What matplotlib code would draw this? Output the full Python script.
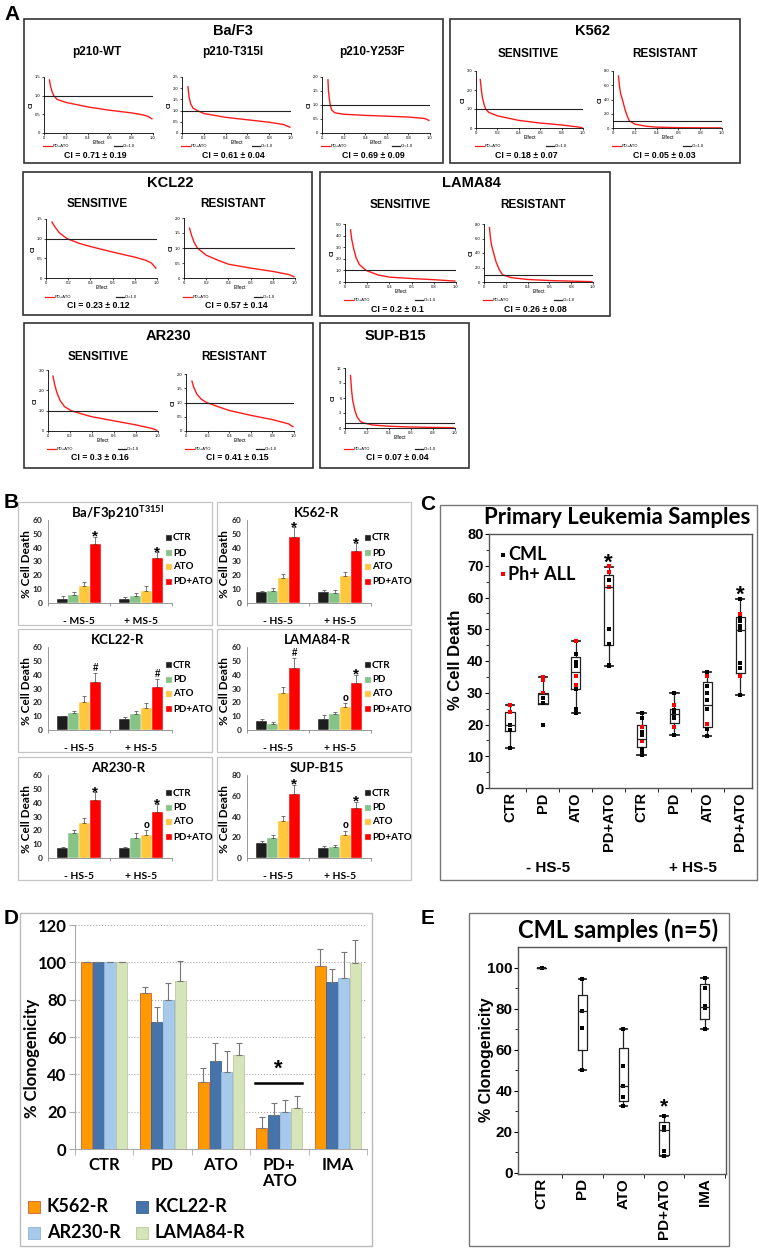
import numpy as np
import matplotlib.pyplot as plt
from matplotlib.patches import Rectangle
from matplotlib.lines import Line2D

plt.rcParams['font.family'] = 'Liberation Sans'
plt.rcParams['mathtext.fontset'] = 'custom'
plt.rcParams['mathtext.bf'] = 'Lato:bold'
plt.rcParams['mathtext.rm'] = 'Lato'

# ---------------- panel A : combination index curves (effect, CI) ----------------
wt_eff = [0.05, 0.06, 0.075, 0.09, 0.12, 0.2, 0.4, 0.6, 0.8, 0.9, 0.95, 0.99]
wt_ci = [1.42, 1.25, 1.1, 1.0, 0.9, 0.82, 0.70, 0.61, 0.54, 0.49, 0.45, 0.38]
t315_eff = [0.055, 0.065, 0.08, 0.1, 0.14, 0.2, 0.4, 0.6, 0.8, 0.93, 0.99]
t315_ci = [2.06, 1.6, 1.3, 1.12, 1.0, 0.87, 0.7, 0.59, 0.48, 0.38, 0.26]
y253_eff = [0.055, 0.06, 0.07, 0.08, 0.09, 0.12, 0.2, 0.4, 0.6, 0.8, 0.95, 0.99]
y253_ci = [1.9, 1.5, 1.15, 0.95, 0.82, 0.72, 0.67, 0.63, 0.6, 0.57, 0.52, 0.45]
k562s_eff = [0.04, 0.05, 0.06, 0.075, 0.09, 0.12, 0.2, 0.4, 0.6, 0.8, 0.96, 0.99]
k562s_ci = [2.55, 2.0, 1.6, 1.25, 1.0, 0.82, 0.64, 0.4, 0.26, 0.16, 0.05, 0.02]
k562r_eff = [0.05, 0.06, 0.07, 0.09, 0.11, 0.13, 0.15, 0.2, 0.3, 0.4, 0.6, 0.8, 0.99]
k562r_ci = [7.3, 5.8, 4.8, 3.8, 2.6, 1.7, 1.0, 0.55, 0.25, 0.12, 0.05, 0.03, 0.02]
kcl22s_eff = [0.054, 0.08, 0.12, 0.19, 0.3, 0.4, 0.6, 0.8, 0.9, 0.95, 0.99]
kcl22s_ci = [1.42, 1.3, 1.15, 1.0, 0.88, 0.8, 0.66, 0.53, 0.45, 0.38, 0.25]
kcl22r_eff = [0.05, 0.07, 0.09, 0.12, 0.2, 0.3, 0.4, 0.6, 0.8, 0.95, 0.99]
kcl22r_ci = [1.66, 1.4, 1.2, 1.0, 0.76, 0.6, 0.46, 0.33, 0.22, 0.11, 0.04]
lama84s_eff = [0.05, 0.06, 0.08, 0.1, 0.13, 0.19, 0.3, 0.4, 0.6, 0.8, 0.99]
lama84s_ci = [4.5, 3.7, 2.8, 2.1, 1.5, 1.0, 0.6, 0.42, 0.3, 0.2, 0.08]
lama84r_eff = [0.05, 0.06, 0.07, 0.09, 0.11, 0.14, 0.17, 0.25, 0.4, 0.6, 0.8, 0.99]
lama84r_ci = [7.5, 6.0, 5.0, 3.9, 2.8, 1.7, 1.0, 0.6, 0.35, 0.2, 0.12, 0.05]
ar230s_eff = [0.045, 0.06, 0.08, 0.11, 0.15, 0.21, 0.3, 0.4, 0.6, 0.8, 0.95, 0.99]
ar230s_ci = [2.7, 2.3, 1.9, 1.5, 1.2, 1.0, 0.85, 0.7, 0.5, 0.3, 0.12, 0.03]
ar230r_eff = [0.055, 0.07, 0.1, 0.14, 0.19, 0.3, 0.4, 0.6, 0.8, 0.95, 0.99]
ar230r_ci = [1.75, 1.55, 1.3, 1.12, 1.0, 0.85, 0.72, 0.55, 0.4, 0.25, 0.15]
supb15_eff = [0.05, 0.06, 0.07, 0.09, 0.11, 0.14, 0.17, 0.25, 0.4, 0.6, 0.8, 0.99]
supb15_ci = [10.5, 7.5, 5.5, 3.5, 2.2, 1.3, 1.0, 0.6, 0.35, 0.2, 0.12, 0.05]

ci_mean = [0.71, 0.61, 0.69, 0.18, 0.05, 0.23, 0.57, 0.2, 0.26, 0.3, 0.41, 0.07]
ci_sd = [0.19, 0.04, 0.09, 0.07, 0.03, 0.12, 0.14, 0.1, 0.08, 0.16, 0.15, 0.04]

# ---------------- panel B : % cell death, [-stroma, +stroma] x [CTR, PD, ATO, PD+ATO] ----------------
b_treat = ['CTR', 'PD', 'ATO', 'PD+ATO']
baf3_vals = [[3.1, 6.0, 12.0, 42.4], [2.9, 4.8, 8.9, 32.4]]
baf3_errs = [[2.2, 1.9, 2.9, 5.6], [1.4, 2.4, 3.6, 4.3]]
k562_vals = [[7.7, 8.9, 18.0, 48.0], [7.9, 7.2, 19.7, 37.7]]
k562_errs = [[1.2, 1.9, 3.1, 6.7], [1.7, 2.2, 2.6, 5.5]]
kcl22_vals = [[10.1, 12.0, 20.4, 34.8], [8.2, 11.3, 16.1, 31.2]]
kcl22_errs = [[0.3, 1.7, 4.3, 6.4], [1.2, 2.4, 3.1, 5.5]]
lama84_vals = [[6.3, 4.6, 26.7, 45.0], [8.0, 11.6, 16.4, 34.0]]
lama84_errs = [[1.7, 1.4, 4.6, 6.8], [2.8, 1.4, 3.4, 6.0]]
ar230_vals = [[7.1, 17.9, 25.0, 41.7], [7.1, 14.8, 16.4, 33.3]]
ar230_errs = [[1.2, 2.1, 3.6, 5.9], [1.2, 3.1, 3.6, 5.7]]
supb15_vals = [[14.4, 19.5, 35.5, 61.7], [9.6, 10.5, 21.7, 47.9]]
supb15_errs = [[1.9, 2.9, 5.4, 8.9], [1.9, 2.3, 4.8, 6.4]]

# ---------------- panel C : primary samples ----------------
c_labels = ['CTR', 'PD', 'ATO', 'PD+ATO', 'CTR', 'PD', 'ATO', 'PD+ATO']
c_whislo = [12.6, 26.5, 23.6, 38.3, 10.5, 16.6, 16.3, 29.3]
c_q1 = [18.0, 26.5, 31.3, 45.1, 13.0, 20.5, 19.2, 36.2]
c_med = [20.0, 29.5, 36.4, 63.3, 15.5, 23.4, 26.1, 49.9]
c_q3 = [24.0, 29.9, 41.3, 67.1, 20.0, 25.0, 33.4, 53.9]
c_whishi = [26.1, 35.0, 46.4, 69.5, 23.6, 29.8, 36.4, 59.4]
c_cml = [[20, 18.2, 12.6], [28.4, 26.8, 20], [42.2, 39.8, 38.5, 31.3, 25, 23.6],
         [65.5, 50.2, 45.4, 38.8, 38.3], [23.6, 21.9, 17.6, 16.6, 12.3, 11.1, 10.5],
         [29.8, 24.5, 23.4, 21.9, 16.6], [36.4, 32.1, 29.8, 27.7, 24.8, 18.7, 16.3],
         [59.4, 53.6, 52.5, 51, 49.9, 39.3, 37.7, 29.3]]
c_phall = [[26.1, 23.8], [35, 34, 29.8], [46.4, 35.4, 32.4], [69.8, 67.9, 63.4],
           [19.2, 14.7], [26.1, 19.2], [35.3, 20.3], [54.9, 35.3]]

# ---------------- panel D : clonogenicity of resistant lines ----------------
d_groups = ['CTR', 'PD', 'ATO', 'PD+\nATO', 'IMA']
d_lines = ['K562-R', 'KCL22-R', 'AR230-R', 'LAMA84-R']
k562_clono = [100, 83.4, 36, 11.3, 98.2]
k562_clono_err = [0, 3.6, 7.2, 5.8, 9.1]
kcl22_clono = [100, 67.9, 47.3, 18, 89.3]
kcl22_clono_err = [0, 8.1, 9.7, 6.8, 7.3]
ar230_clono = [100, 79.8, 41.4, 20, 91.8]
ar230_clono_err = [0, 9, 11.1, 6.2, 13.6]
lama84_clono = [100, 89.8, 50.2, 22.1, 99.6]
lama84_clono_err = [0, 11.1, 6.4, 6.3, 12.4]

# ---------------- panel E : CML samples ----------------
e_labels = ['CTR', 'PD', 'ATO', 'PD+ATO', 'IMA']
e_whislo = [100, 50.2, 32.7, 8.4, 69.9]
e_q1 = [100, 59.9, 34.8, 8.9, 74.8]
e_med = [100, 79, 42.3, 21, 80.9]
e_q3 = [100, 86.6, 61, 24.6, 92.2]
e_whishi = [100, 94.3, 69.9, 27.5, 95.1]
e_pts = [[100, 100, 100, 100, 100], [94.3, 94.3, 79, 70.4, 50.2], [69.9, 52.3, 42.3, 37.2, 32.7],
         [27.5, 22.3, 21, 10.5, 8.4], [95.1, 89.8, 81.2, 80.3, 69.9]]

W, H = 759, 1249
fig = plt.figure(figsize=(W / 100, H / 100), dpi=100)


def add_ax(x0, y0, x1, y1):
    return fig.add_axes([x0 / W, 1 - y1 / H, (x1 - x0) / W, (y1 - y0) / H])


def frame(x0, y0, x1, y1, color='#333333', lw=1.2):
    fig.add_artist(Rectangle((x0 / W, 1 - y1 / H), (x1 - x0) / W, (y1 - y0) / H,
                             transform=fig.transFigure, fill=False, ec=color, lw=lw))


def txt(x, y, s, **kw):
    kw.setdefault('ha', 'center')
    kw.setdefault('va', 'center')
    fig.text(x / W, 1 - y / H, s, **kw)


def fline(x0, x1, y, **kw):
    fig.add_artist(Line2D([x0 / W, x1 / W], [1 - y / H, 1 - y / H], transform=fig.transFigure, **kw))


# panel letters
for lt, (x, y) in zip('ABCDE', [(12, 15), (11, 503), (428, 505), (11, 918), (428, 918)]):
    txt(x, y, lt, fontsize=15, fontweight='bold')

# ---- A ----
a_boxes = [(24, 19, 443, 163), (450, 19, 740, 163), (23, 172, 312, 315),
           (320, 172, 610, 316), (24, 323, 313, 468), (320, 323, 469, 468)]
a_titles = [('Ba/F3', 233, 31), ('K562', 593, 31), ('KCL22', 170, 183),
            ('LAMA84', 471, 183), ('AR230', 168, 336), ('SUP-B15', 395, 336)]
for b in a_boxes:
    frame(*b)
for t, x, y in a_titles:
    txt(x, y, t, fontsize=10.5, fontweight='bold')

a_subs = [('p210-WT', 97, 52), ('p210-T315I', 233, 52), ('p210-Y253F', 372, 52),
          ('SENSITIVE', 528, 54), ('RESISTANT', 665, 54),
          ('SENSITIVE', 97, 204), ('RESISTANT', 233, 204),
          ('SENSITIVE', 400, 205), ('RESISTANT', 533, 205),
          ('SENSITIVE', 98, 357), ('RESISTANT', 234, 357)]
for t, x, y in a_subs:
    txt(x, y, t, fontsize=8.5, fontweight='bold')

a_curves = [(wt_eff, wt_ci), (t315_eff, t315_ci), (y253_eff, y253_ci),
            (k562s_eff, k562s_ci), (k562r_eff, k562r_ci),
            (kcl22s_eff, kcl22s_ci), (kcl22r_eff, kcl22r_ci),
            (lama84s_eff, lama84s_ci), (lama84r_eff, lama84r_ci),
            (ar230s_eff, ar230s_ci), (ar230r_eff, ar230r_ci), (supb15_eff, supb15_ci)]
a_pos = [(44, 77, 153, 133), (182, 77, 291, 133), (322, 77, 430, 133),
         (476, 71, 583, 128), (613, 71, 722, 128),
         (46, 219, 157, 278), (184, 218, 295, 278),
         (345, 224, 456, 282), (484, 224, 593, 282),
         (48, 370, 158, 431), (186, 374, 294, 431), (345, 368, 455, 428)]
a_ytop = [1.5, 2.5, 2.0, 3.0, 8.0, 1.5, 2.0, 5.0, 8.0, 3.0, 2.0, 12]
a_ystep = [0.5, 0.5, 0.5, 1.0, 2.0, 0.5, 0.5, 1.0, 2.0, 1.0, 0.5, 3]
a_leg_y = [146, 146, 146, 146, 146, 297, 297, 300, 300, 449, 449, 449]
a_ci_y = [155, 155, 155, 155, 155, 305, 305, 309, 309, 458, 458, 458]

for k in range(12):
    x0, y0, x1, y1 = a_pos[k]
    ax = add_ax(x0, y0, x1, y1)
    ex, cy = a_curves[k]
    ax.plot(ex, cy, color='#ff1a1a', lw=1.0)
    ax.plot([0, 1.0], [1.0, 1.0], color='#222222', lw=0.8)
    ax.set_xlim(0, 1.0)
    ax.set_ylim(0, a_ytop[k])
    yt = np.arange(0, a_ytop[k] + 1e-6, a_ystep[k])
    ax.set_yticks(yt)
    if a_ystep[k] >= 3:
        ax.set_yticklabels(['%d' % v for v in yt])
    else:
        ax.set_yticklabels(['0'] + ['%.1f' % v for v in yt[1:]])
    ax.set_xticks([0, 0.2, 0.4, 0.6, 0.8, 1.0])
    ax.set_xticklabels(['0', '0.2', '0.4', '0.6', '0.8', '1.0'])
    ax.tick_params(labelsize=3, length=1.5, width=0.5, pad=1)
    for s in ['top', 'right']:
        ax.spines[s].set_visible(False)
    for s in ['left', 'bottom']:
        ax.spines[s].set_linewidth(0.6)
    ax.set_ylabel('CI', fontsize=4.5, fontweight='bold', labelpad=1)
    ax.set_xlabel('Effect', fontsize=3.5, labelpad=0)
    ly = a_leg_y[k]
    fline(x0 - 1, x0 + 8, ly, color='#ff1a1a', lw=0.9)
    txt(x0 + 9, ly, 'PD+ATO', fontsize=3, ha='left')
    fline(x0 + 70, x0 + 78, ly, color='#222222', lw=0.9)
    txt(x0 + 79, ly, 'CI=1.0', fontsize=3, ha='left')
    txt((x0 + x1) / 2 - 3, a_ci_y[k], 'CI = %g ± %g' % (ci_mean[k], ci_sd[k]),
        fontsize=6.3, fontweight='bold')

# ---- B ----
b_colors = ['#1e1e1e', '#86c386', '#ffc83c', '#ff0000']
b_panels = [
    ((18, 502), 'Ba/F3p210$^{\\mathbf{T315I}}$', baf3_vals, baf3_errs, ['- MS-5', '+ MS-5'], 60, 10, ['*', '*'], [False, False]),
    ((217, 502), 'K562-R', k562_vals, k562_errs, ['- HS-5', '+ HS-5'], 60, 10, ['*', '*'], [False, False]),
    ((18, 629), 'KCL22-R', kcl22_vals, kcl22_errs, ['- HS-5', '+ HS-5'], 60, 10, ['#', '#'], [False, False]),
    ((217, 629), 'LAMA84-R', lama84_vals, lama84_errs, ['- HS-5', '+ HS-5'], 60, 10, ['#', '*'], [False, True]),
    ((18, 757), 'AR230-R', ar230_vals, ar230_errs, ['- HS-5', '+ HS-5'], 60, 10, ['*', '*'], [False, True]),
    ((217, 757), 'SUP-B15', supb15_vals, supb15_errs, ['- HS-5', '+ HS-5'], 80, 20, ['*', '*'], [False, True]),
]
w = 0.177
offs = (np.arange(4) - 1.5) * w
for (bx, by), title, vals, errs, groups, ymax, ystep, marks, circ in b_panels:
    frame(bx, by, bx + 194, by + 123, color='#c4c4c4', lw=0.9)
    ax = add_ax(bx + 30, by + 18, bx + 154, by + 101)
    v = np.array(vals)
    e = np.array(errs)
    for i in range(4):
        ax.bar(np.arange(2) + offs[i], v[:, i], w, color=b_colors[i], edgecolor='white', lw=0.3,
               yerr=[np.zeros(2), e[:, i]], capsize=1.3,
               error_kw=dict(elinewidth=0.5, ecolor='#444444', capthick=0.5))
    tops = v + e
    for g in range(2):
        if marks[g] == '*':
            ax.annotate('*', (g + offs[3], tops[g, 3]), xytext=(0, -3), textcoords='offset points',
                        ha='center', va='baseline', fontsize=11, fontweight='bold')
        else:
            ax.annotate('#', (g + offs[3], tops[g, 3]), xytext=(0, 1.5), textcoords='offset points',
                        ha='center', va='baseline', fontsize=7, fontweight='bold')
        if circ[g]:
            ax.annotate('o', (g + offs[2], tops[g, 2]), xytext=(0, 1.5), textcoords='offset points',
                        ha='center', va='baseline', fontsize=7, fontweight='bold')
    ax.set_xlim(-0.5, 1.5)
    ax.set_ylim(0, ymax)
    ax.set_yticks(np.arange(0, ymax + 1, ystep))
    ax.tick_params(axis='y', labelsize=6, length=0, pad=4, labelcolor='#222222')
    for lb in ax.get_yticklabels():
        lb.set_fontweight('bold')
        lb.set_family('Lato')
    ax.set_xticks([0, 1])
    ax.set_xticklabels(groups, fontsize=7.5, fontweight='bold', family='Lato')
    ax.set_xticks([-0.5, 0.5, 1.5], minor=True)
    ax.tick_params(axis='x', which='major', length=0, pad=10)
    ax.tick_params(axis='x', which='minor', length=2, width=0.6, color='#888888')
    for s in ['top', 'right']:
        ax.spines[s].set_visible(False)
    for s in ['left', 'bottom']:
        ax.spines[s].set_color('#888888')
        ax.spines[s].set_linewidth(0.6)
    txt(bx + 100, by + 11, title, fontsize=9.5, fontweight='bold', family='Lato')
    txt(bx + 8, by + 62, '% Cell Death', fontsize=8.5, fontweight='bold', family='Lato', rotation=90)
    for i, lab in enumerate(b_treat):
        yy = by + [36, 51, 65, 80][i]
        fig.add_artist(Line2D([(bx + 151) / W], [1 - yy / H], marker='s', ms=4.2, color=b_colors[i],
                              mec='#dddddd', mew=0.3, transform=fig.transFigure))
        txt(bx + 155, yy, lab, fontsize=7, fontweight='bold', family='Lato', ha='left')

# ---- C ----
frame(440, 505, 757, 880, color='#777777', lw=1.0)
txt(617, 518, 'Primary Leukemia Samples', fontsize=16, fontweight='bold', family='Lato')
ax = add_ax(489, 534, 752, 788)
stats = [dict(med=c_med[i], q1=c_q1[i], q3=c_q3[i], whislo=c_whislo[i], whishi=c_whishi[i])
         for i in range(8)]
ax.bxp(stats, positions=range(8), widths=0.28, capwidths=0.25, showfliers=False,
       boxprops=dict(lw=0.9, color='#222222'), whiskerprops=dict(lw=0.9, color='#222222'),
       capprops=dict(lw=1.3, color='#222222'), medianprops=dict(lw=0.9, color='#222222'))
for i in range(8):
    ax.plot([i] * len(c_cml[i]), c_cml[i], 's', color='black', ms=2.8, mew=0)
    ax.plot([i] * len(c_phall[i]), c_phall[i], 's', color='#ff0000', ms=2.8, mew=0)
for i in [3, 7]:
    ax.annotate('*', (i, c_whishi[i]), xytext=(0, -1), textcoords='offset points',
                ha='center', va='baseline', fontsize=16, fontweight='bold')
ax.set_xlim(-0.64, 7.36)
ax.set_ylim(0, 80)
ax.set_yticks(range(0, 81, 10))
ax.set_yticks(range(5, 80, 10), minor=True)
ax.tick_params(axis='y', labelsize=10.5, pad=1, length=3)
ax.tick_params(axis='y', which='minor', length=2)
for lb in ax.get_yticklabels():
    lb.set_fontweight('bold')
ax.set_xticks(range(8))
ax.set_xticklabels(c_labels, rotation=90, fontsize=10.5, fontweight='bold')
ax.set_xticks(np.arange(0.5, 7, 1), minor=True)
ax.tick_params(axis='x', which='major', length=0, pad=3)
ax.tick_params(axis='x', which='minor', length=3)
for s in ax.spines.values():
    s.set_color('#555555')
    s.set_linewidth(1.0)
txt(455, 660, '% Cell Death', fontsize=12, fontweight='bold', rotation=90)
txt(548, 868, '- HS-5', fontsize=11, fontweight='bold')
txt(693, 868, '+ HS-5', fontsize=11, fontweight='bold')
fig.add_artist(Line2D([503 / W], [1 - 555 / H], marker='s', ms=3, color='black', mew=0, transform=fig.transFigure))
fig.add_artist(Line2D([503 / W], [1 - 574 / H], marker='s', ms=3, color='#ff0000', mew=0, transform=fig.transFigure))
txt(508, 555, 'CML', fontsize=13, fontweight='bold', family='Lato', ha='left')
txt(508, 574, 'Ph+ ALL', fontsize=13, fontweight='bold', family='Lato', ha='left')

# ---- D ----
frame(20, 913, 372, 1246, color='#bbbbbb', lw=1.0)
ax = add_ax(75, 925, 367, 1149)
d_vals = [k562_clono, kcl22_clono, ar230_clono, lama84_clono]
d_errs = [k562_clono_err, kcl22_clono_err, ar230_clono_err, lama84_clono_err]
d_colors = ['#ff9900', '#4673aa', '#a6c9ec', '#d6e4b9']
d_edges = ['#d0603a', '#3a6294', '#8fb4d8', '#b8c99a']
dw = 0.2
for i in range(4):
    x = np.arange(5) + (i - 1.5) * dw
    ax.bar(x, d_vals[i], dw * 0.95, color=d_colors[i], edgecolor=d_edges[i], lw=0.6,
           yerr=[np.zeros(5), d_errs[i]], capsize=2.2,
           error_kw=dict(elinewidth=0.8, ecolor='#777777', capthick=0.8), zorder=3)
ax.set_xlim(-0.5, 4.5)
ax.set_ylim(0, 120)
ax.set_yticks(range(0, 121, 20))
ax.yaxis.grid(True, ls=':', color='#aaaaaa', lw=0.8)
ax.set_axisbelow(True)
ax.tick_params(axis='y', labelsize=12, length=4, color='#aaaaaa', pad=2)
for lb in ax.get_yticklabels():
    lb.set_fontweight('bold')
    lb.set_family('Lato')
ax.set_xticks(range(5))
ax.set_xticklabels(d_groups, fontsize=12, fontweight='bold', family='Lato', linespacing=0.95)
ax.set_xticks(np.arange(-0.5, 5, 1), minor=True)
ax.tick_params(axis='x', which='major', length=0, pad=6)
ax.tick_params(axis='x', which='minor', length=4, color='#aaaaaa')
for s in ['top', 'right']:
    ax.spines[s].set_visible(False)
for s in ['left', 'bottom']:
    ax.spines[s].set_color('#aaaaaa')
ax.plot([2.58, 3.39], [35.5, 35.5], color='black', lw=1.8)
ax.text(2.985, 37, '*', ha='center', va='bottom', fontsize=16, fontweight='bold')
txt(32, 1058, '% Clonogenicity', fontsize=12, fontweight='bold', family='Lato', rotation=90)
d_leg = [(34, 47, 1207), (142, 154, 1207), (34, 47, 1233), (142, 154, 1233)]
for i, (sx, tx, yy) in enumerate(d_leg):
    fig.add_artist(Rectangle(((sx - 6) / W, 1 - (yy + 6) / H), 12 / W, 12 / H, transform=fig.transFigure,
                             fc=d_colors[i], ec=d_edges[i], lw=0.6))
    txt(tx, yy, d_lines[i], fontsize=13, fontweight='bold', family='Lato', ha='left')

# ---- E ----
frame(469, 913, 729, 1246, color='#777777', lw=1.0)
txt(618, 930, 'CML samples (n=5)', fontsize=17, fontweight='bold', family='Lato')
ax = add_ax(518, 947, 726, 1174)
stats = [dict(med=e_med[i], q1=e_q1[i], q3=e_q3[i], whislo=e_whislo[i], whishi=e_whishi[i])
         for i in range(5)]
ax.bxp(stats, positions=range(5), widths=0.23, capwidths=0.18, showfliers=False,
       boxprops=dict(lw=0.9, color='#222222'), whiskerprops=dict(lw=0.9, color='#222222'),
       capprops=dict(lw=1.3, color='#222222'), medianprops=dict(lw=0.9, color='#222222'))
for i in range(5):
    ax.plot([i] * len(e_pts[i]), e_pts[i], 's', color='black', ms=2.8, mew=0)
ax.annotate('*', (3, e_whishi[3]), xytext=(0, 3), textcoords='offset points',
            ha='center', va='baseline', fontsize=15, fontweight='bold')
ax.set_xlim(-0.58, 4.52)
ax.set_ylim(-0.5, 110)
ax.set_yticks(range(0, 101, 20))
ax.set_yticks(range(10, 110, 20), minor=True)
ax.tick_params(axis='y', labelsize=11, pad=1, length=3)
ax.tick_params(axis='y', which='minor', length=2)
for lb in ax.get_yticklabels():
    lb.set_fontweight('bold')
ax.set_xticks(range(5))
ax.set_xticklabels(e_labels, rotation=90, fontsize=11, fontweight='bold')
ax.set_xticks(np.arange(0.5, 4.6, 1), minor=True)
ax.tick_params(axis='x', which='major', length=0, pad=3)
ax.tick_params(axis='x', which='minor', length=3)
for s in ax.spines.values():
    s.set_color('#555555')
    s.set_linewidth(1.0)
txt(487, 1060, '% Clonogenicity', fontsize=11.5, fontweight='bold', rotation=90)

fig.savefig('out.png', dpi=100)
